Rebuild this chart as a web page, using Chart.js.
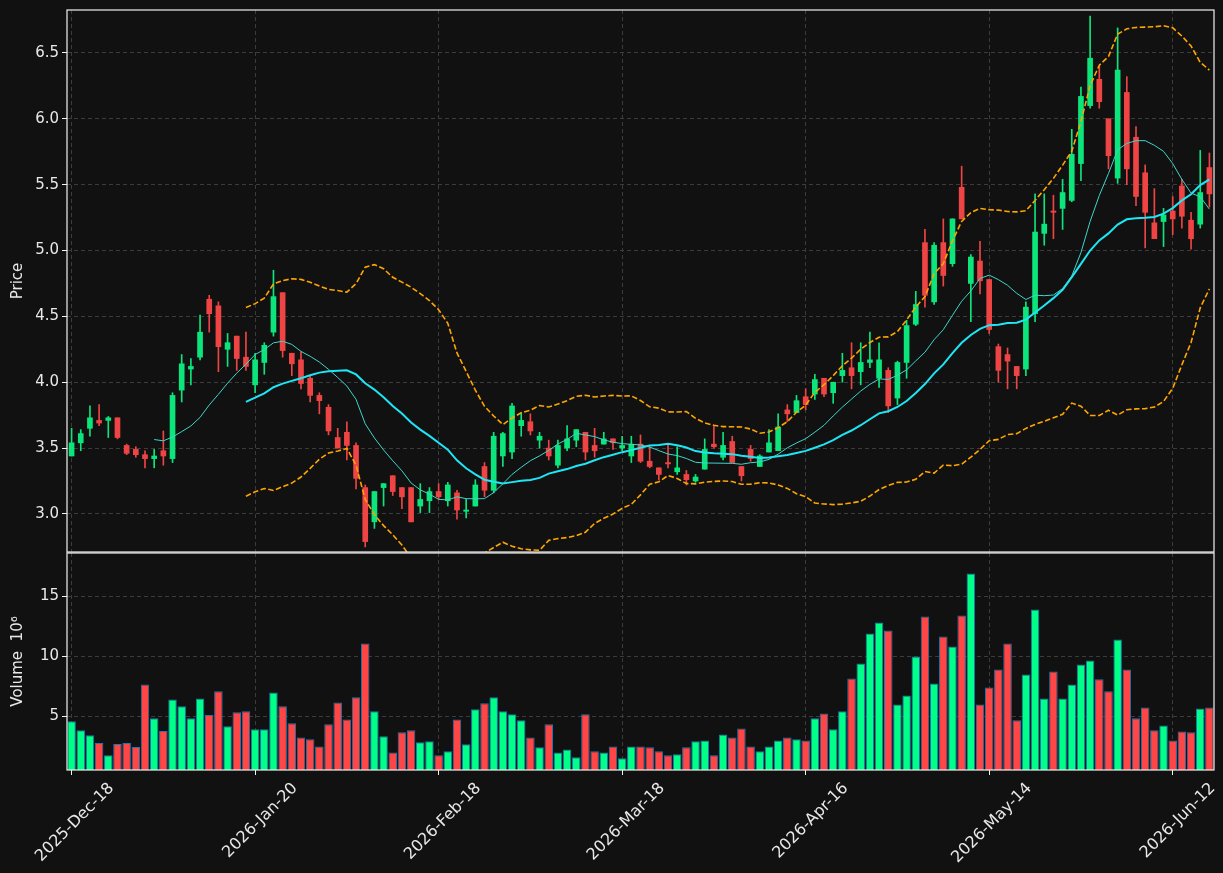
<!DOCTYPE html>
<html>
<head>
<meta charset="utf-8">
<script src="https://cdn.jsdelivr.net/npm/chart.js@4/dist/chart.umd.min.js"></script>
<style>
  html, body { margin: 0; padding: 0; background: #111111; }
  #wrap { position: relative; width: 1223px; height: 873px; background: #111111; overflow: hidden; }
  #price { position: absolute; left: 0; top: 0; }
  #volume { position: absolute; left: 0; top: 552px; }
</style>
</head>
<body>
<div id="wrap">
  <canvas id="price" width="1223" height="553"></canvas>
  <canvas id="volume" width="1223" height="321"></canvas>
</div>
<script>
// trading calendar
const START_DATE = "2025-12-18";
const HOLIDAYS = ["2025-12-25", "2026-01-01", "2026-01-19", "2026-02-16", "2026-04-03", "2026-05-25", "2026-06-19"];
const TICK_EVERY = 20;

// OHLC (price) and volume (millions)
const opens = [
  3.44, 3.54, 3.65, 3.71, 3.71, 3.73, 3.52, 3.49, 3.45, 3.42, 3.48, 3.42, 3.94, 4.10, 4.19, 4.63, 4.58, 4.25, 4.35, 4.19,
  3.98, 4.15, 4.38, 4.68, 4.22, 4.17, 4.03, 3.90, 3.81, 3.58, 3.62, 3.52, 3.20, 2.94, 3.20, 3.29, 3.20, 3.20, 3.06, 3.10,
  3.17, 3.10, 3.16, 3.02, 3.06, 3.36, 3.18, 3.44, 3.47, 3.67, 3.70, 3.56, 3.50, 3.37, 3.50, 3.56, 3.62, 3.52, 3.53, 3.57,
  3.50, 3.44, 3.53, 3.40, 3.35, 3.39, 3.32, 3.30, 3.25, 3.34, 3.53, 3.43, 3.55, 3.36, 3.49, 3.36, 3.47, 3.48, 3.79, 3.77,
  3.89, 3.91, 4.03, 3.92, 4.05, 4.11, 4.08, 4.15, 4.03, 4.09, 3.88, 4.15, 4.44, 5.06, 4.61, 5.06, 4.90, 5.48, 4.75, 4.92,
  4.78, 4.27, 4.21, 4.12, 4.10, 4.52, 5.13, 5.30, 5.32, 5.38, 5.66, 6.10, 6.30, 6.00, 5.55, 6.20, 5.86, 5.59, 5.21, 5.22,
  5.30, 5.49, 5.23, 5.20, 5.63
];
const highs = [
  3.65, 3.64, 3.82, 3.83, 3.74, 3.73, 3.53, 3.51, 3.48, 3.49, 3.63, 3.92, 4.21, 4.18, 4.51, 4.66, 4.61, 4.37, 4.35, 4.38,
  4.22, 4.30, 4.85, 4.68, 4.22, 4.23, 4.05, 3.92, 3.83, 3.65, 3.70, 3.54, 3.22, 3.17, 3.23, 3.29, 3.20, 3.20, 3.23, 3.20,
  3.23, 3.24, 3.18, 3.11, 3.26, 3.39, 3.62, 3.62, 3.84, 3.77, 3.76, 3.62, 3.56, 3.56, 3.67, 3.64, 3.62, 3.65, 3.62, 3.57,
  3.59, 3.59, 3.60, 3.51, 3.35, 3.53, 3.51, 3.33, 3.30, 3.57, 3.67, 3.62, 3.59, 3.36, 3.52, 3.45, 3.64, 3.76, 3.83, 3.90,
  3.95, 4.06, 4.03, 4.00, 4.22, 4.30, 4.30, 4.38, 4.30, 4.11, 4.16, 4.47, 4.69, 5.16, 5.06, 5.24, 5.24, 5.64, 4.97, 5.07,
  4.78, 4.29, 4.26, 4.12, 4.61, 5.43, 5.43, 5.42, 5.54, 5.92, 6.24, 6.78, 6.40, 6.00, 6.69, 6.32, 5.94, 5.65, 5.47, 5.32,
  5.41, 5.54, 5.29, 5.76, 5.74
];
const lows = [
  3.44, 3.48, 3.59, 3.67, 3.58, 3.57, 3.45, 3.43, 3.35, 3.35, 3.37, 3.39, 3.85, 3.98, 4.17, 4.38, 4.08, 4.12, 4.09, 4.09,
  3.92, 4.06, 4.35, 4.19, 4.05, 3.95, 3.85, 3.76, 3.60, 3.50, 3.41, 3.19, 2.75, 2.89, 3.06, 3.14, 3.04, 2.94, 3.01, 3.01,
  3.11, 3.06, 2.96, 2.97, 3.06, 3.13, 3.16, 3.36, 3.42, 3.59, 3.60, 3.50, 3.41, 3.35, 3.48, 3.51, 3.41, 3.43, 3.53, 3.49,
  3.48, 3.39, 3.39, 3.35, 3.26, 3.35, 3.30, 3.22, 3.24, 3.34, 3.50, 3.41, 3.39, 3.25, 3.40, 3.36, 3.47, 3.48, 3.70, 3.77,
  3.79, 3.87, 3.89, 3.84, 4.00, 3.95, 3.98, 4.11, 3.96, 3.77, 3.83, 4.03, 4.43, 4.57, 4.59, 4.73, 4.88, 5.24, 4.46, 4.67,
  4.37, 4.00, 3.95, 3.95, 4.05, 4.46, 5.04, 5.09, 5.16, 5.37, 5.53, 6.08, 6.08, 5.62, 5.51, 5.50, 5.34, 5.02, 5.09, 5.03,
  5.12, 5.17, 5.01, 5.17, 5.33
];
const closes = [
  3.54, 3.61, 3.73, 3.69, 3.73, 3.58, 3.46, 3.45, 3.42, 3.44, 3.44, 3.90, 4.14, 4.12, 4.38, 4.52, 4.27, 4.30, 4.18, 4.12,
  4.17, 4.28, 4.65, 4.24, 4.14, 3.99, 3.90, 3.86, 3.63, 3.50, 3.52, 3.27, 2.79, 3.17, 3.23, 3.17, 3.13, 2.94, 3.11, 3.17,
  3.13, 3.22, 3.03, 3.03, 3.22, 3.18, 3.59, 3.61, 3.82, 3.71, 3.63, 3.59, 3.44, 3.52, 3.57, 3.64, 3.47, 3.48, 3.57, 3.54,
  3.52, 3.53, 3.40, 3.36, 3.30, 3.38, 3.35, 3.26, 3.28, 3.49, 3.51, 3.52, 3.39, 3.29, 3.42, 3.44, 3.54, 3.66, 3.76, 3.86,
  3.83, 4.02, 3.91, 4.00, 4.09, 4.05, 4.15, 4.17, 4.17, 3.82, 4.15, 4.43, 4.59, 4.66, 5.04, 4.81, 5.24, 5.24, 4.95, 4.77,
  4.40, 4.09, 4.16, 4.05, 4.57, 5.14, 5.20, 5.29, 5.44, 5.73, 6.17, 6.46, 6.13, 5.72, 6.37, 5.62, 5.41, 5.29, 5.09, 5.27,
  5.24, 5.26, 5.09, 5.44, 5.43
];
const volumes = [
  4.56, 3.81, 3.39, 2.75, 1.72, 2.67, 2.75, 2.42, 7.64, 4.81, 3.75, 6.39, 5.81, 4.81, 6.47, 5.08, 7.06, 4.14, 5.31, 5.39,
  3.89, 3.89, 6.97, 5.81, 4.39, 3.22, 3.06, 2.47, 4.31, 6.14, 4.72, 6.56, 11.06, 5.39, 3.31, 1.97, 3.64, 3.81, 2.81, 2.89,
  1.72, 2.06, 4.72, 2.64, 5.56, 6.06, 6.56, 5.39, 5.14, 4.64, 3.22, 2.39, 4.31, 1.97, 2.22, 1.56, 5.14, 2.06, 1.97, 2.47,
  1.47, 2.47, 2.47, 2.39, 2.06, 1.72, 1.81, 2.39, 2.89, 2.97, 1.72, 3.47, 3.22, 3.97, 2.47, 2.06, 2.47, 2.97, 3.22, 3.06,
  2.97, 4.81, 5.22, 3.89, 5.39, 8.14, 9.39, 11.89, 12.81, 12.14, 5.97, 6.72, 9.97, 13.31, 7.72, 11.64, 10.81, 13.39, 16.89, 5.97,
  7.39, 8.89, 11.06, 4.64, 8.47, 13.89, 6.47, 8.72, 6.47, 7.64, 9.31, 9.64, 8.06, 7.06, 11.39, 8.89, 4.81, 5.72, 3.81, 4.22,
  2.97, 3.72, 3.64, 5.64, 5.72
];

const TEXT = "#e8e8e8";
const GRID = "#3c3c3c";
const SPINE = "#f2f2f2";
const UP_CANDLE = "#0be57b";
const DOWN_CANDLE = "#ee4444";
const UP_VOL = "#00ff88";
const DOWN_VOL = "#ff4646";
const VOL_EDGE = "#1f77b4";
const FONT = { family: '"DejaVu Sans", sans-serif', size: 15 };
const XFONT = { family: '"DejaVu Sans", sans-serif', size: 16 };

const MONTHS = ["Jan", "Feb", "Mar", "Apr", "May", "Jun", "Jul", "Aug", "Sep", "Oct", "Nov", "Dec"];

function tradingDays(start, count) {
  const out = [];
  const d = new Date(start + "T00:00:00Z");
  while (out.length < count) {
    const iso = d.toISOString().slice(0, 10);
    const wd = d.getUTCDay();
    if (wd !== 0 && wd !== 6 && !HOLIDAYS.includes(iso)) {
      out.push(`${d.getUTCFullYear()}-${MONTHS[d.getUTCMonth()]}-${String(d.getUTCDate()).padStart(2, "0")}`);
    }
    d.setUTCDate(d.getUTCDate() + 1);
  }
  return out;
}

function sma(values, n) {
  return values.map((_, i) => {
    if (i < n - 1) return null;
    let s = 0;
    for (let k = i - n + 1; k <= i; k++) s += values[k];
    return s / n;
  });
}

function rollingStd(values, n) {
  const mean = sma(values, n);
  return values.map((_, i) => {
    if (mean[i] === null) return null;
    let s = 0;
    for (let k = i - n + 1; k <= i; k++) s += (values[k] - mean[i]) ** 2;
    return Math.sqrt(s / n);
  });
}

const labels = tradingDays(START_DATE, closes.length);
const isUp = closes.map((c, i) => c >= opens[i]);
const ma10 = sma(closes, 10);
const ma20 = sma(closes, 20);
const sd20 = rollingStd(closes, 20);
const bbUpper = ma20.map((m, i) => (m === null ? null : m + 2 * sd20[i]));
const bbLower = ma20.map((m, i) => (m === null ? null : m - 2 * sd20[i]));

const panelBorder = {
  id: "panelBorder",
  afterDraw(chart) {
    const { ctx, chartArea: a } = chart;
    ctx.save();
    ctx.strokeStyle = SPINE;
    ctx.lineWidth = 1.2;
    ctx.strokeRect(a.left, a.top, a.right - a.left, a.bottom - a.top);
    ctx.restore();
  },
};

const tickGrid = (color) => (ctx) => (ctx.index % TICK_EVERY === 0 ? color : "rgba(0,0,0,0)");

// keep the plot areas exactly where the panels sit
const fixY = (s) => { s.width = 67; s.paddingTop = 0; s.paddingBottom = 0; };
const fixX = (h) => (s) => { s.height = h; s.paddingLeft = 0; s.paddingRight = 0; };

function lineSet(data, color, width, dash) {
  return {
    type: "line",
    data,
    borderColor: color,
    borderWidth: width,
    borderDash: dash || [],
    pointRadius: 0,
    tension: 0,
    fill: false,
    spanGaps: false,
    order: 0,
  };
}

new Chart(document.getElementById("price"), {
  type: "bar",
  data: {
    labels,
    datasets: [
      lineSet(bbUpper, "#ffa500", 1.6, [5.5, 2.5]),
      lineSet(bbLower, "#ffa500", 1.6, [5.5, 2.5]),
      lineSet(ma10, "#3fd6cc", 1),
      lineSet(ma20, "#1ee6f5", 2),
      {
        data: opens.map((o, i) => [o, closes[i]]),
        backgroundColor: isUp.map((u) => (u ? UP_CANDLE : DOWN_CANDLE)),
        barThickness: 5,
        minBarLength: 1,
        grouped: false,
        borderWidth: 0,
        order: 1,
      },
      {
        data: lows.map((l, i) => [l, highs[i]]),
        backgroundColor: isUp.map((u) => (u ? UP_CANDLE : DOWN_CANDLE)),
        barThickness: 1,
        grouped: false,
        borderWidth: 0,
        order: 2,
      },
    ],
  },
  options: {
    responsive: false,
    animation: false,
    layout: { padding: { top: 10, right: 9, bottom: 1, left: 0 } },
    plugins: { legend: { display: false }, tooltip: { enabled: false } },
    scales: {
      x: {
        type: "category",
        offset: true,
        ticks: { display: false, autoSkip: false },
        grid: { offset: false, color: tickGrid(GRID), drawTicks: false },
        border: { display: false, dash: [4, 3] },
        afterFit: fixX(0),
      },
      y: {
        position: "left",
        min: 2.711,
        max: 6.826,
        afterFit: fixY,
        ticks: {
          stepSize: 0.5,
          includeBounds: false,
          color: TEXT,
          font: FONT,
          padding: 3,
          callback: (v) => Number(v).toFixed(1),
        },
        grid: { color: GRID, tickColor: SPINE, tickLength: 5 },
        border: { display: false, dash: [4, 3] },
        title: { display: true, text: "Price", color: TEXT, font: FONT, padding: { top: 9, bottom: 0 } },
      },
    },
  },
  plugins: [panelBorder],
});

new Chart(document.getElementById("volume"), {
  type: "bar",
  data: {
    labels,
    datasets: [
      {
        data: volumes,
        backgroundColor: isUp.map((u) => (u ? UP_VOL : DOWN_VOL)),
        borderColor: VOL_EDGE,
        borderWidth: 1,
        borderSkipped: false,
        barPercentage: 0.93,
        categoryPercentage: 1,
      },
    ],
  },
  options: {
    responsive: false,
    animation: false,
    layout: { padding: { top: 1, right: 9, bottom: 0, left: 0 } },
    plugins: { legend: { display: false }, tooltip: { enabled: false } },
    scales: {
      x: {
        type: "category",
        offset: true,
        ticks: {
          autoSkip: false,
          minRotation: 45,
          maxRotation: 45,
          color: TEXT,
          font: XFONT,
          padding: 4,
          labelOffset: 40,
          callback: (v, i) => (i % TICK_EVERY === 0 ? labels[i] : ""),
        },
        grid: { offset: false, color: tickGrid(GRID), tickColor: tickGrid(SPINE), tickLength: 5 },
        border: { display: false, dash: [4, 3] },
        afterFit: fixX(103),
      },
      y: {
        position: "left",
        min: 0.5,
        max: 18.6,
        afterFit: fixY,
        ticks: { stepSize: 5, includeBounds: false, color: TEXT, font: FONT, padding: 3 },
        grid: { color: GRID, tickColor: SPINE, tickLength: 5 },
        border: { display: false, dash: [4, 3] },
        title: { display: true, text: "Volume  10\u2076", color: TEXT, font: FONT, padding: { top: 9, bottom: 0 } },
      },
    },
  },
  plugins: [panelBorder],
});
</script>
</body>
</html>
